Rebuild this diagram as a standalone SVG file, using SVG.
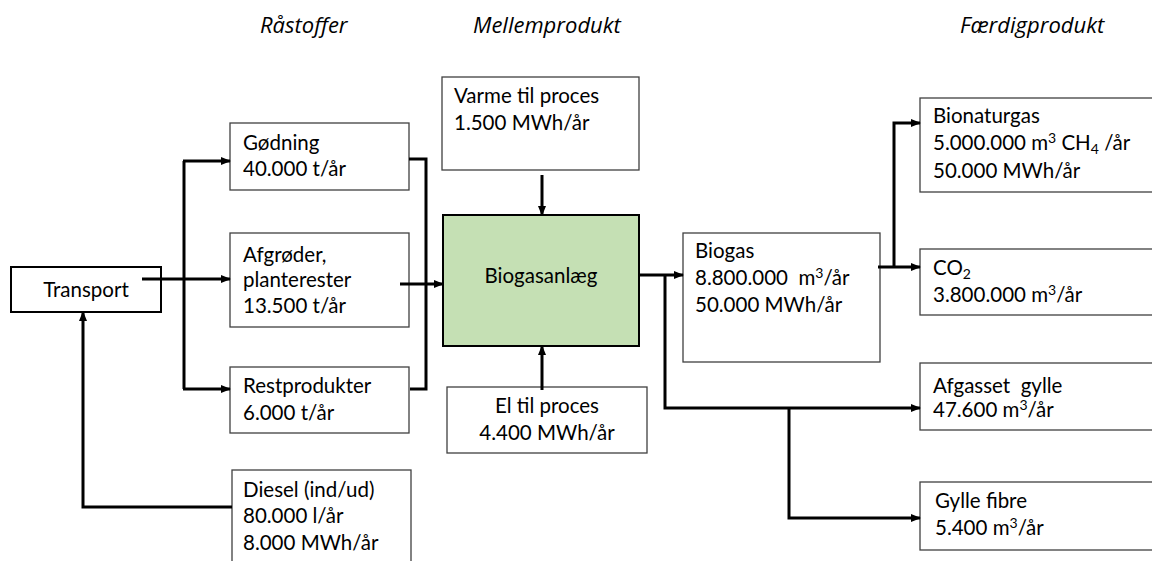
<svg xmlns="http://www.w3.org/2000/svg" width="1152" height="561" viewBox="0 0 1152 561">
<style>
text{font-family:Lato,"Liberation Sans",sans-serif;font-size:20.5px;fill:#000}
.hd{font-family:"Open Sans","Liberation Sans",sans-serif;font-style:italic;font-size:22px}
.box{fill:#fff;stroke:#404040;stroke-width:1.3}
.green{fill:#c5e0b4;stroke:#000;stroke-width:2}
.tbox{fill:#fff;stroke:#000;stroke-width:2}
.c{fill:none;stroke:#000;stroke-width:3}
.a{marker-end:url(#ah)}
.sub{font-size:14px}
</style>
<defs>
<marker id="ah" markerUnits="userSpaceOnUse" markerWidth="10" markerHeight="10" viewBox="0 0 10 10" refX="9" refY="5" orient="auto">
<path d="M0,1 L10,5 L0,9 Z" fill="#000"/>
</marker>
</defs>
<g id="headers">
<text class="hd" x="260" y="33">Råstoffer</text>
<text class="hd" x="473" y="33">Mellemprodukt</text>
<text class="hd" x="960" y="33">Færdigprodukt</text>
</g>
<g id="transport"><rect class="tbox" x="11" y="267" width="150" height="45"/><text x="86" y="297" text-anchor="middle">Transport</text></g>
<g id="godning"><rect class="box" x="230" y="123" width="179" height="67"/><text x="243" y="150">Gødning</text><text x="243" y="176">40.000 t/år</text></g>
<g id="afgroder"><rect class="box" x="230" y="233" width="179" height="94"/><text x="243" y="262">Afgrøder,</text><text x="243" y="287">planterester</text><text x="243" y="313">13.500 t/år</text></g>
<g id="restprodukter"><rect class="box" x="230" y="367" width="179" height="66"/><text x="243" y="393">Restprodukter</text><text x="243" y="420">6.000 t/år</text></g>
<g id="diesel"><rect class="box" x="232" y="470" width="179" height="100"/><text x="243" y="497">Diesel (ind/ud)</text><text x="243" y="523">80.000 l/år</text><text x="243" y="550">8.000 MWh/år</text></g>
<g id="varme"><rect class="box" x="442" y="77" width="197" height="93"/><text x="454" y="103">Varme til proces</text><text x="454" y="130">1.500 MWh/år</text></g>
<g id="biogasanlaeg"><rect class="green" x="443" y="215" width="196" height="131"/><text x="541" y="283" text-anchor="middle">Biogasanlæg</text></g>
<g id="el"><rect class="box" x="447" y="387" width="200" height="66"/><text x="547" y="413" text-anchor="middle">El til proces</text><text x="547" y="440" text-anchor="middle">4.400 MWh/år</text></g>
<g id="biogas"><rect class="box" x="683" y="233" width="197" height="129"/><text x="695" y="258">Biogas</text><text x="695" y="285" xml:space="preserve">8.800.000  m<tspan class="sub" dy="-7">3</tspan><tspan dy="7">/år</tspan></text><text x="695" y="312">50.000 MWh/år</text></g>
<g id="bionaturgas"><rect class="box" x="920" y="98" width="240" height="94"/><text x="933" y="123">Bionaturgas</text><text x="933" y="150">5.000.000 m<tspan class="sub" dy="-7">3</tspan><tspan dy="7"> CH</tspan><tspan class="sub" dy="4">4</tspan><tspan dy="-4"> /år</tspan></text><text x="933" y="178">50.000 MWh/år</text></g>
<g id="co2"><rect class="box" x="920" y="249" width="240" height="66"/><text x="933" y="275">CO<tspan class="sub" dy="4">2</tspan></text><text x="933" y="302">3.800.000 m<tspan class="sub" dy="-7">3</tspan><tspan dy="7">/år</tspan></text></g>
<g id="afgasset"><rect class="box" x="920" y="363" width="240" height="67"/><text x="933" y="393" xml:space="preserve">Afgasset  gylle</text><text x="933" y="417">47.600 m<tspan class="sub" dy="-7">3</tspan><tspan dy="7">/år</tspan></text></g>
<g id="gyllefibre"><rect class="box" x="920" y="482" width="240" height="68"/><text x="935" y="508">Gylle fibre</text><text x="935" y="535">5.400 m<tspan class="sub" dy="-7">3</tspan><tspan dy="7">/år</tspan></text></g>
<g id="connectors">
<path class="c" d="M184,161 V389"/>
<path class="c a" d="M183,161 H230"/>
<path class="c a" d="M142,279 H230"/>
<path class="c a" d="M183,389 H230"/>
<path class="c a" d="M232,507 H83 V312"/>
<path class="c" d="M409,159 H426 V389 H410"/>
<path class="c a" d="M400,284 H443"/>
<path class="c a" d="M542,175 V215"/>
<path class="c a" d="M542,390 V346"/>
<path class="c a" d="M639,275 H683"/>
<path class="c a" d="M665,275 V408 H920"/>
<path class="c a" d="M789,408 V518 H920"/>
<path class="c a" d="M878,267 H920"/>
<path class="c a" d="M894,267 V123 H920"/>
</g>
</svg>
